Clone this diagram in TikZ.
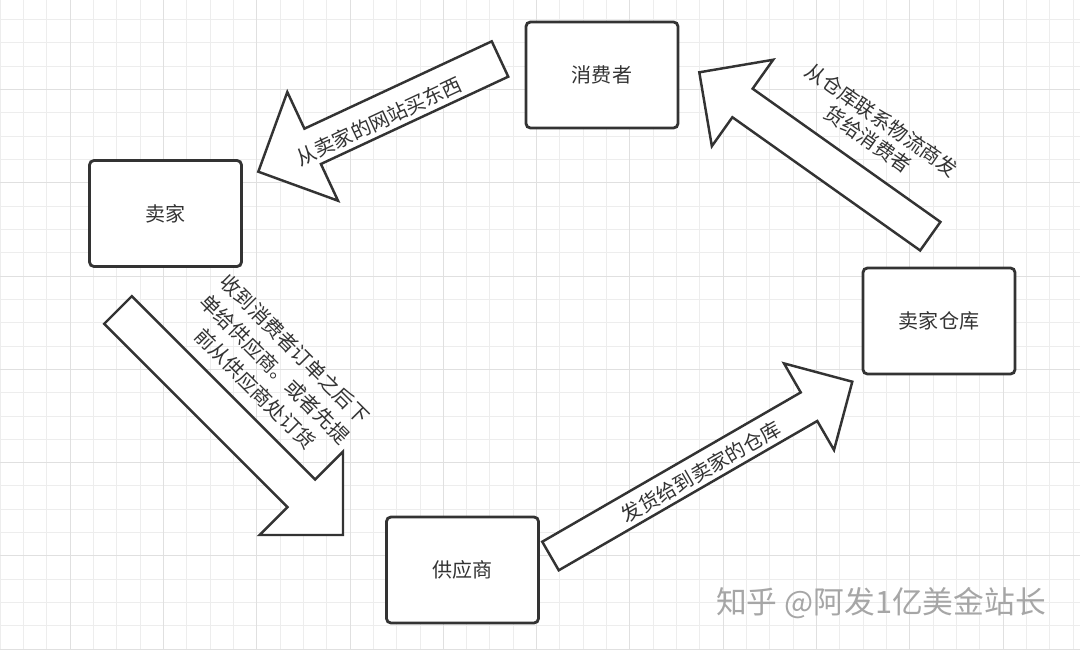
\documentclass[tikz,border=0pt]{standalone}
\usepackage{fontspec}
\setmainfont{Noto Sans CJK SC}
\usetikzlibrary{calc}
\definecolor{ink}{HTML}{333333}
\definecolor{gridminor}{HTML}{EDEDED}
\definecolor{gridmajor}{HTML}{E0E0E0}

\begin{document}
\begin{tikzpicture}[x=0.02cm, y=-0.02cm,
  box/.style={draw=ink, line width=1.6pt, rounded corners=2.5pt, fill=white, text=ink,
    minimum width=3.04cm, minimum height=2.12cm, font=\fontsize{11.4}{14}\selectfont},
  bigarrow/.style={draw=ink, line width=1.4pt, fill=white},
  note/.style={text=ink, align=center, inner sep=0pt, font=\fontsize{11.4}{14}\selectfont}]
% Fundo quadriculado
\fill[white] (0,0) rectangle (1080,650);
\useasboundingbox (0,0) rectangle (1080,650);
\foreach \i in {0,...,46} \draw[gridminor, line width=0.5pt] ({23.33*\i},0) -- ({23.33*\i},650);
\foreach \j in {1,...,28} \draw[gridminor, line width=0.5pt] (0,{-4+23.33*\j}) -- (1080,{-4+23.33*\j});
\foreach \i in {3,7,...,43} \draw[gridmajor, line width=0.5pt] ({23.33*\i},0) -- ({23.33*\i},650);
\foreach \j in {4,8,...,28} \draw[gridmajor, line width=0.5pt] (0,{-4+23.33*\j}) -- (1080,{-4+23.33*\j});
% Caixas
\node[box] (seller) at (165.5,213.5) {卖家};
\node[box] (consumer) at (602,75) {消费者};
\node[box] (supplier) at (462.5,570) {供应商};
\node[box] (store) at (939,321) {卖家仓库};
% Setas grandes
\coordinate (buy-tail) at (500,59);
\coordinate (buy-tip) at (258.3,171.7);
\coordinate (order-tail) at (118,310);
\coordinate (order-tip) at (343,535);
\coordinate (ship-tail) at (550.5,556);
\coordinate (ship-tip) at (852.3,381.7);
\coordinate (send-tail) at (930.3,236.2);
\coordinate (send-tip) at (699.3,72.3);
\foreach \a/\b/\s/\w in {buy-tail/buy-tip/0.39/1.2, order-tail/order-tip/0.39/1.18,
                         ship-tail/ship-tip/0.33/1.0, send-tail/send-tip/0.35/1.06}
  \draw[bigarrow] let \p1=($(\b)-(\a)$), \n1={atan2(\y1,\x1)} in
    ($(\a)+(\n1+90:\s cm)$) -- ($(\b)!\w cm!(\a)+(\n1+90:\s cm)$)
    -- ($(\b)!\w cm!(\a)+(\n1+90:\w cm)$) -- (\b)
    -- ($(\b)!\w cm!(\a)+(\n1-90:\w cm)$) -- ($(\b)!\w cm!(\a)+(\n1-90:\s cm)$)
    -- ($(\a)+(\n1-90:\s cm)$) -- cycle;
% Textos das setas
\node[note, rotate=25] (buy-text) at (379,121) {从卖家的网站买东西};
\node[note, rotate=-45, font=\fontsize{11.4}{16}\selectfont] (order-text) at (275,369)
  {收到消费者订单之后下\\单给供应商。或者先提\\前从供应商处订货};
\node[note, rotate=30] (ship-text) at (701,472) {发货给到卖家的仓库};
\node[note, rotate=-35, font=\fontsize{11.4}{13.5}\selectfont] (send-text) at (875,129.5)
  {从仓库联系物流商发\\货给消费者};
% Marca
\node[text=black!35, font=\fontsize{17.5}{20}\selectfont] (mark) at (881,603) {知乎 @阿发1亿美金站长};
\end{tikzpicture}
\end{document}
